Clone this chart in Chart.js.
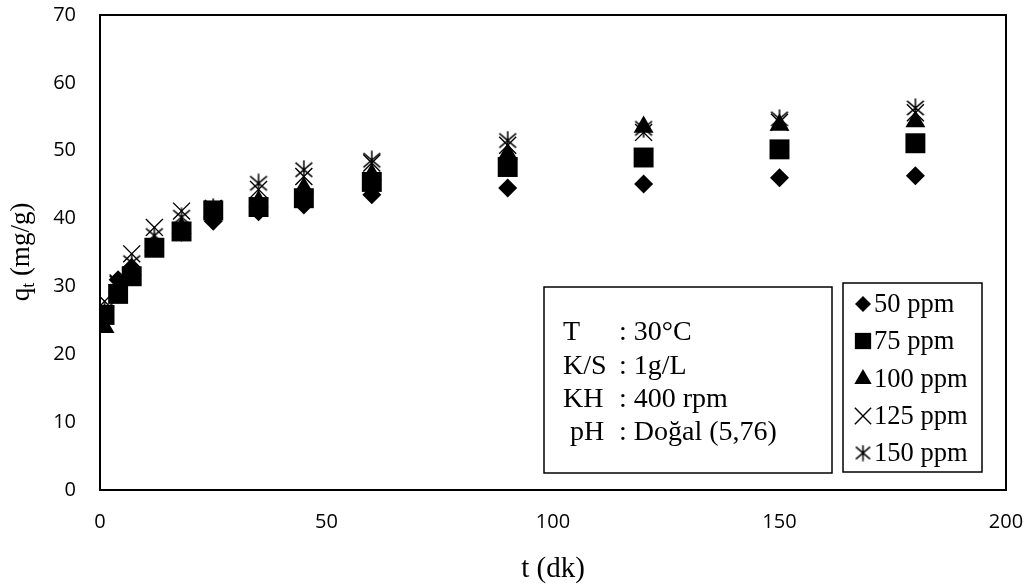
<!DOCTYPE html>
<html>
<head>
<meta charset="utf-8">
<script src="https://cdn.jsdelivr.net/npm/chart.js@4.4.0/dist/chart.umd.min.js"></script>
<style>
  html, body { margin: 0; padding: 0; background: #fff; }
</style>
</head>
<body>
<canvas id="kineticsChart" width="1033" height="587"></canvas>
<script>
// contact time (dk) and adsorbed amount q_t (mg/g) for each initial concentration
const times = [1, 4, 7, 12, 18, 25, 35, 45, 60, 90, 120, 150, 180];
const q50 = [26, 31, 32.8, 36, 38, 39.6, 41, 42, 43.5, 44.5, 45.1, 46, 46.3];
const q75 = [25.8, 28.9, 31.5, 35.7, 38.1, 41.2, 41.7, 43, 45.4, 47.6, 49, 50.2, 51.1];
const q100 = [24, 30, 32.5, 36, 38.6, 41, 42.5, 44.5, 46.5, 49.5, 53.5, 53.8, 54.3];
const q125 = [27.8, 30.5, 34.8, 38.7, 41.1, 41.5, 44.3, 46.2, 48.2, 50.8, 52.7, 54.2, 55.6];
const q150 = [26.5, 30.5, 33.5, 37.5, 40.2, 41.6, 45.2, 47.2, 48.6, 51.5, 53.3, 54.7, 56.3];

const seriesLabels = ['50 ppm', '75 ppm', '100 ppm', '125 ppm', '150 ppm'];
const seriesValues = [q50, q75, q100, q125, q150];

const conditionNames = ['T', 'K/S', 'KH', ' pH'];
const conditionValues = [': 30°C', ': 1g/L', ': 400 rpm', ': Doğal (5,76)'];

const serif = '"Liberation Serif", "Times New Roman", serif';
const sans = '"Open Sans", Lato, sans-serif';

// six-armed asterisk: an x with a vertical bar through it
function asteriskMark(size) {
  const c = document.createElement('canvas');
  c.width = size; c.height = size;
  const g = c.getContext('2d');
  g.strokeStyle = '#000';
  g.lineWidth = 1.5;
  const m = size / 2, d = size * 0.42;
  g.beginPath();
  g.moveTo(m - d, m - d * 0.85); g.lineTo(m + d, m + d * 0.85);
  g.moveTo(m + d, m - d * 0.85); g.lineTo(m - d, m + d * 0.85);
  g.moveTo(m, 0.5); g.lineTo(m, size - 0.5);
  g.stroke();
  return c;
}

const markers = [
  { pointStyle: 'rectRot', radius: 9.5, legendRadius: 8, borderWidth: 0 },
  { pointStyle: 'rect', radius: 14.1, legendRadius: 11.5, borderWidth: 0 },
  { pointStyle: 'triangle', radius: 11.5, legendRadius: 10, borderWidth: 0 },
  { pointStyle: 'crossRot', radius: 12, legendRadius: 11.5, borderWidth: 1.4 },
  { pointStyle: asteriskMark(20), legendStyle: asteriskMark(17), radius: 10, legendRadius: 8.5, borderWidth: 1.4 }
];

const datasets = seriesValues.map((vals, i) => ({
  label: seriesLabels[i],
  data: times.map((t, k) => ({ x: t, y: vals[k] })),
  showLine: false,
  pointStyle: markers[i].pointStyle,
  pointRadius: markers[i].radius,
  pointHoverRadius: markers[i].radius,
  pointBorderWidth: markers[i].borderWidth,
  pointBackgroundColor: '#000',
  pointBorderColor: '#000'
}));

// frame, rotated y title with subscript, conditions box and legend box
const decorations = {
  id: 'decorations',
  afterDraw(chart) {
    const ctx = chart.ctx;
    const area = chart.chartArea;

    ctx.save();
    ctx.strokeStyle = '#000';
    ctx.lineWidth = 2;
    ctx.strokeRect(area.left, area.top, area.right - area.left, area.bottom - area.top);

    // y axis title: q_t (mg/g)
    ctx.save();
    ctx.translate(22, 252);
    ctx.rotate(-Math.PI / 2);
    ctx.fillStyle = '#000';
    ctx.textBaseline = 'middle';
    const big = '27px ' + serif, small = '18px ' + serif;
    ctx.font = big;
    const wq = ctx.measureText('q').width;
    const wRest = ctx.measureText(' (mg/g)').width;
    ctx.font = small;
    const wt = ctx.measureText('t').width;
    let x0 = -(wq + wt + wRest) / 2;
    ctx.font = big;
    ctx.fillText('q', x0, 0);
    ctx.font = small;
    ctx.fillText('t', x0 + wq, 7);
    ctx.font = big;
    ctx.fillText(' (mg/g)', x0 + wq + wt, 0);
    ctx.restore();

    // conditions box
    ctx.fillStyle = '#fff';
    ctx.fillRect(544, 287, 288, 186);
    ctx.lineWidth = 1.5;
    ctx.strokeRect(544, 287, 288, 186);
    ctx.fillStyle = '#000';
    ctx.font = '28px ' + serif;
    ctx.textBaseline = 'middle';
    ctx.textAlign = 'left';
    const rows = [333, 367, 400, 433];
    conditionNames.forEach((name, i) => {
      ctx.fillText(name, 563, rows[i]);
      ctx.fillText(conditionValues[i], 619, rows[i]);
    });

    // legend box
    ctx.fillStyle = '#fff';
    ctx.fillRect(843, 283, 139, 189);
    ctx.strokeRect(843, 283, 139, 189);
    const legendRows = [304, 341, 379, 416, 453];
    ctx.font = '26.5px ' + serif;
    seriesLabels.forEach((label, i) => {
      const mk = markers[i];
      ctx.fillStyle = '#000';
      ctx.strokeStyle = '#000';
      ctx.lineWidth = mk.borderWidth || 1;
      Chart.helpers.drawPoint(ctx, {
        pointStyle: mk.legendStyle || mk.pointStyle,
        radius: mk.legendRadius,
        rotation: 0,
        borderWidth: mk.borderWidth
      }, 863, legendRows[i]);
      ctx.fillStyle = '#000';
      ctx.fillText(label, 874, legendRows[i] + 1);
    });
    ctx.restore();
  }
};

new Chart(document.getElementById('kineticsChart'), {
  type: 'scatter',
  data: { datasets },
  plugins: [decorations],
  options: {
    responsive: false,
    devicePixelRatio: 1,
    animation: false,
    layout: { padding: { top: 15, right: 27, left: 0, bottom: 0 } },
    plugins: {
      legend: { display: false },
      tooltip: { enabled: false }
    },
    scales: {
      x: {
        type: 'linear',
        min: 0,
        max: 200,
        ticks: { stepSize: 50, color: '#000', font: { family: sans, size: 20 }, padding: 20 },
        grid: { display: false, drawTicks: false },
        border: { display: false },
        title: {
          display: true,
          text: 't (dk)',
          color: '#000',
          font: { family: serif, size: 29 },
          padding: { top: 0, bottom: 0 }
        },
        afterFit(scale) {
          scale.height = 97;
          scale.paddingLeft = 0;
          scale.paddingRight = 0;
        }
      },
      y: {
        min: 0,
        max: 70,
        ticks: { stepSize: 10, color: '#000', font: { family: sans, size: 20 }, padding: 24 },
        grid: { display: false, drawTicks: false },
        border: { display: false },
        afterFit(scale) {
          scale.width = 100;
          scale.paddingTop = 0;
          scale.paddingBottom = 0;
        }
      }
    }
  }
});
</script>
</body>
</html>
